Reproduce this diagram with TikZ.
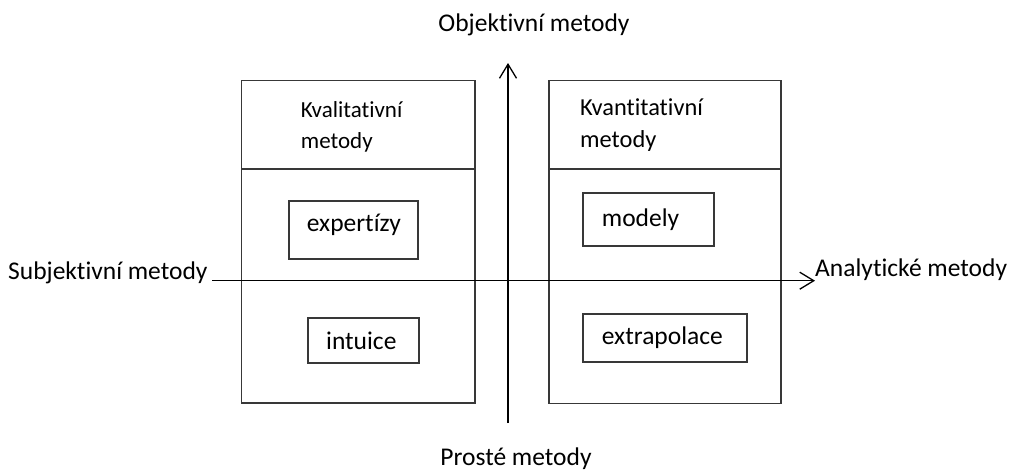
\documentclass[tikz,border=0pt]{standalone}
\usepackage{fontspec}
\setmainfont[Ligatures={NoCommon}]{Carlito}
\usetikzlibrary{arrows.meta}
\tikzset{
  panel/.style={draw=black!78, line width=1.6pt},
  itembox/.style={draw=black!78, line width=1.6pt, inner sep=0pt},
  axis/.style={draw=black, line width=1.4pt, -{Straight Barb[length=14pt,width=17pt,line width=1.3pt]}},
  lbl/.style={inner sep=0pt, anchor=base west, font=\fontsize{25.5}{30}\selectfont},
}
\begin{document}
\begin{tikzpicture}[x=1pt, y=-1pt]
\useasboundingbox (0,0) rectangle (1010,471);

% the two quadrant panels with their header rows
\node[panel, minimum width=233.5pt, minimum height=322.5pt, inner sep=0pt] (qual) at (358.25,241.75) {};
\node[panel, minimum width=232pt, minimum height=323pt, inner sep=0pt] (quant) at (665,242) {};
\coordinate (qualL) at (241.5,169);
\coordinate (qualR) at (475,169);
\coordinate (quantL) at (549,169);
\coordinate (quantR) at (781,169);
\draw[panel] (qualL) -- (qualR);
\draw[panel] (quantL) -- (quantR);

% panel headers
\node[lbl, font=\fontsize{23}{28}\selectfont] (qualA) at (300.7,117.7) {Kvalitativní};
\node[lbl, font=\fontsize{23}{28}\selectfont] (qualB) at (300.7,148) {metody};
\node[lbl, font=\fontsize{24.4}{29}\selectfont] (quantA) at (580,115) {Kvantitativní};
\node[lbl, font=\fontsize{24.4}{29}\selectfont] (quantB) at (580,147.3) {metody};

% method boxes
\node[itembox, minimum width=129pt, minimum height=58.3pt] (expert) at (353.5,229.85) {};
\node[lbl] (expertT) at (306.7,231) {expertízy};
\node[itembox, minimum width=111pt, minimum height=45pt] (intu) at (363.5,340.5) {};
\node[lbl] (intuT) at (326,349) {intuice};
\node[itembox, minimum width=131pt, minimum height=52.7pt] (model) at (648.5,219.35) {};
\node[lbl] (modelT) at (601.7,226.7) {modely};
\node[itembox, minimum width=164pt, minimum height=48pt] (extra) at (665,338) {};
\node[lbl] (extraT) at (601.7,344) {extrapolace};

% axes
\coordinate (vbot) at (508,423);
\coordinate (vtop) at (508,63);
\coordinate (hleft) at (212,280.7);
\coordinate (hright) at (815,280.7);
\draw[axis] (vbot) -- (vtop);
\draw[axis] (hleft) -- (hright);

% axis labels
\node[lbl, anchor=base] (obj) at (534,31) {Objektivní metody};
\node[lbl, anchor=base] (pro) at (516,465) {Prosté metody};
\node[lbl] (subj) at (8,279) {Subjektivní metody};
\node[lbl] (anal) at (815,276.7) {Analytické metody};
\end{tikzpicture}
\end{document}
